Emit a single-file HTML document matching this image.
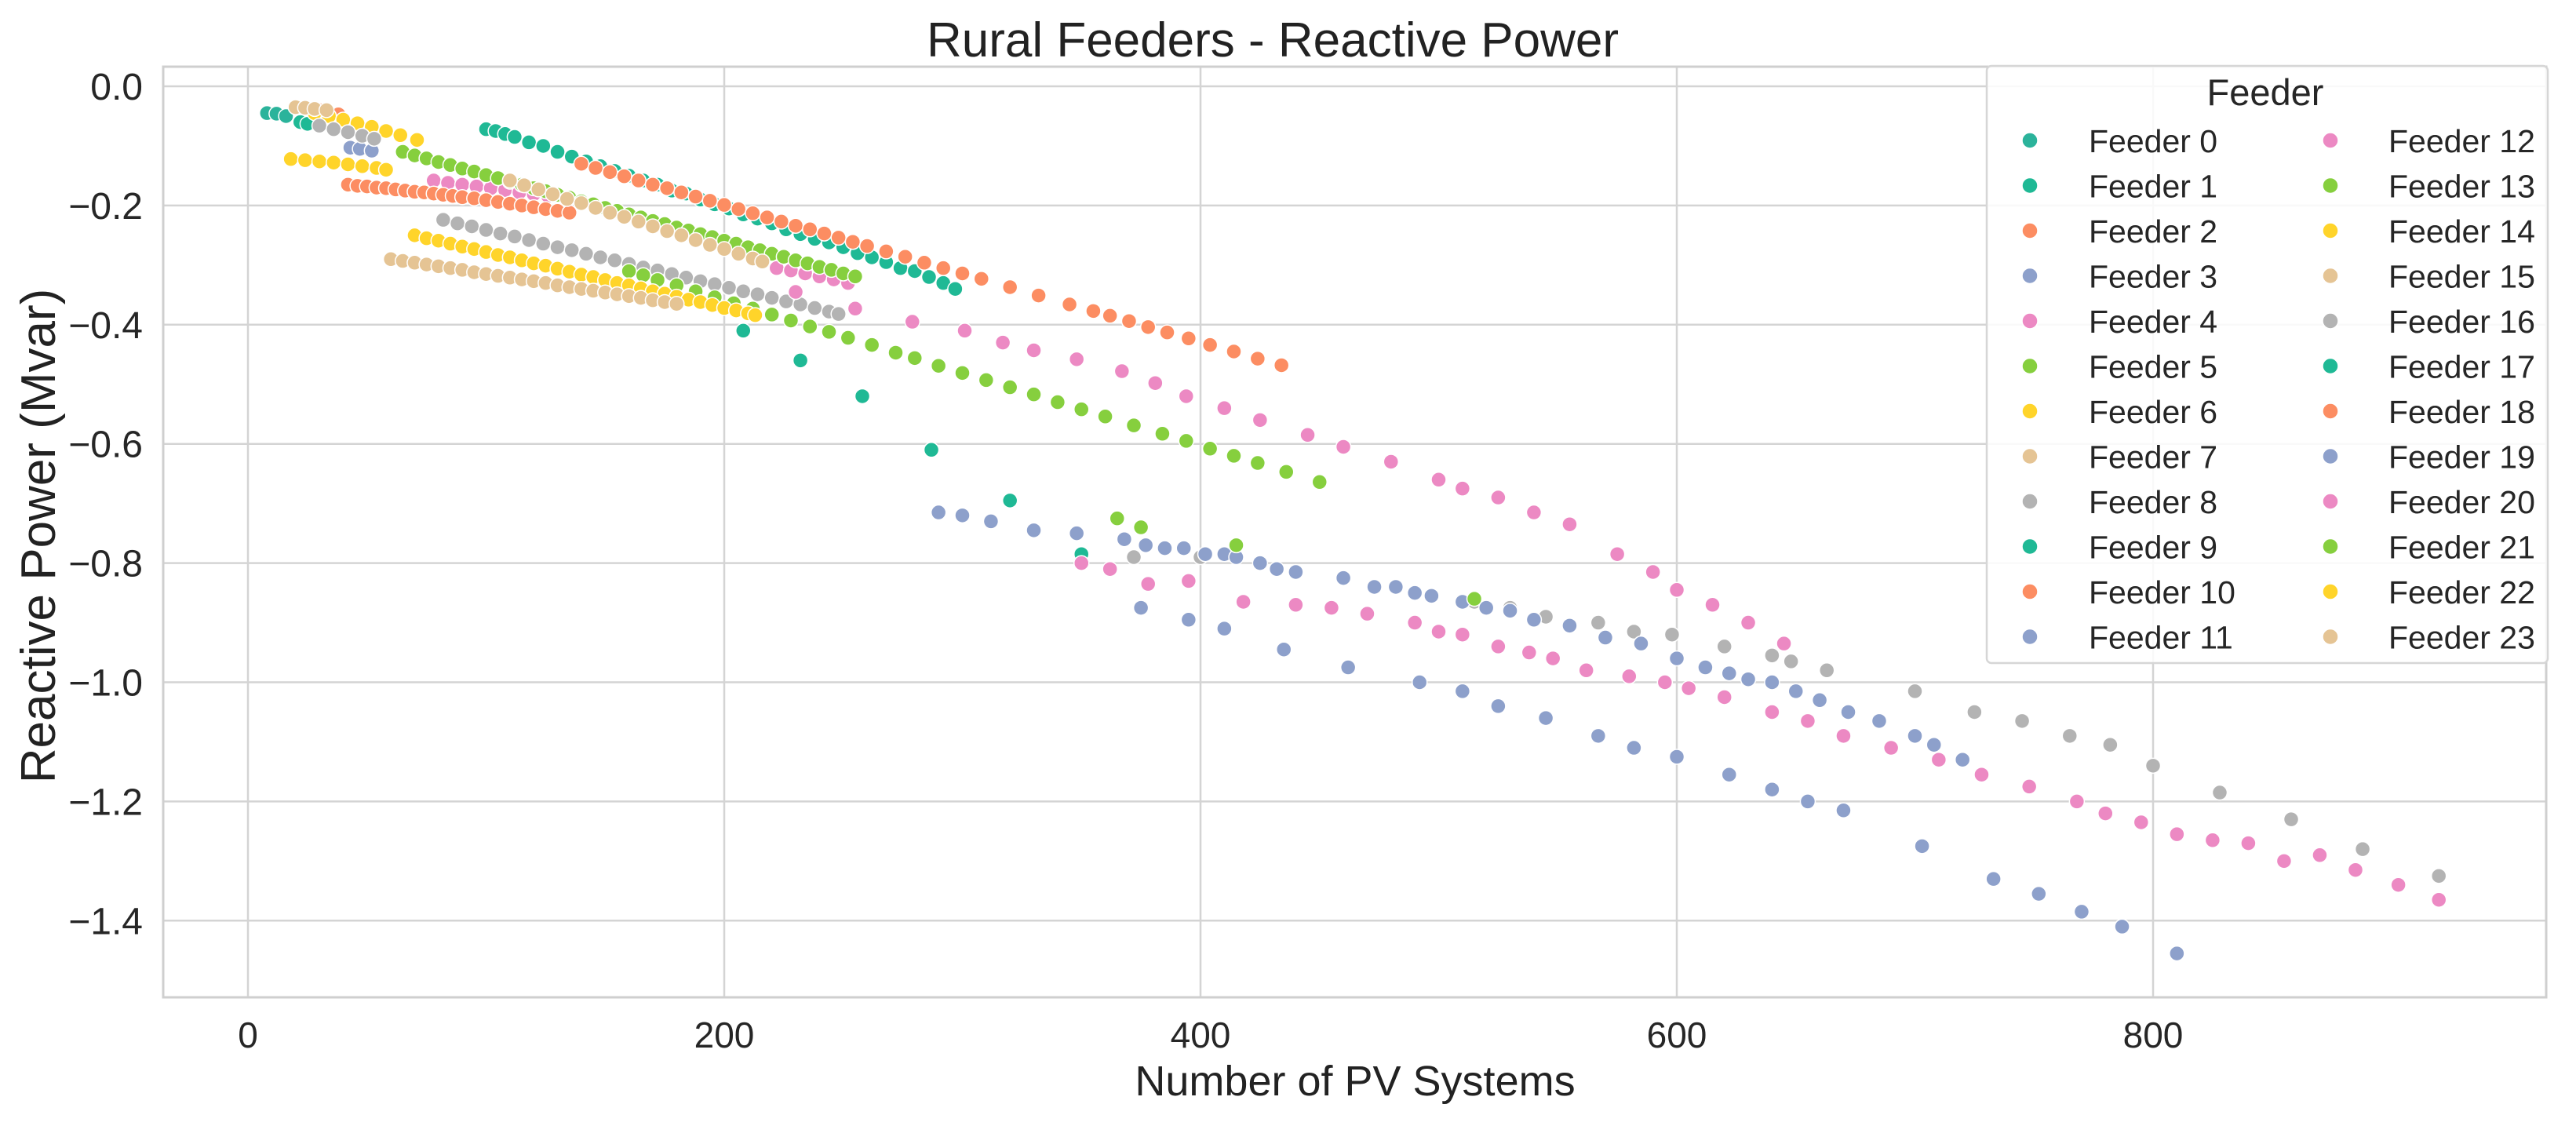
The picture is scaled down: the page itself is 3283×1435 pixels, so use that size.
<!DOCTYPE html>
<html><head><meta charset="utf-8"><title>Rural Feeders - Reactive Power</title>
<style>
html,body{margin:0;padding:0;background:#fff;}
svg{display:block;font-family:"Liberation Sans",Arial,sans-serif;}
</style></head>
<body>
<svg id="chart" width="3283" height="1435" viewBox="0 0 3283 1435" xmlns="http://www.w3.org/2000/svg">
<rect x="0" y="0" width="3283" height="1435" fill="#fff"/>
<g id="grid"></g>
<g id="marks"></g>
<rect x="208" y="85" width="3037" height="1186" fill="none" stroke="#cfcfcf" stroke-width="3"/>
<g id="ticks"></g>
<text x="1622" y="72" font-size="62" text-anchor="middle" fill="#222">Rural Feeders - Reactive Power</text>
<text x="1727" y="1396" font-size="54" text-anchor="middle" fill="#222">Number of PV Systems</text>
<text transform="translate(70,683) rotate(-90)" font-size="62" text-anchor="middle" fill="#222">Reactive Power (Mvar)</text>
<g id="legend"></g>
</svg>
<script>
const xTicks = [0, 200, 400, 600, 800];
const yTicks = [0.0, -0.2, -0.4, -0.6, -0.8, -1.0, -1.2, -1.4];
const yTickLabels = ["0.0", "\u22120.2", "\u22120.4", "\u22120.6", "\u22120.8", "\u22121.0", "\u22121.2", "\u22121.4"];
const feederNames = ["Feeder 0","Feeder 1","Feeder 2","Feeder 3","Feeder 4","Feeder 5","Feeder 6","Feeder 7","Feeder 8","Feeder 9","Feeder 10","Feeder 11","Feeder 12","Feeder 13","Feeder 14","Feeder 15","Feeder 16","Feeder 17","Feeder 18","Feeder 19","Feeder 20","Feeder 21","Feeder 22","Feeder 23"];
const feederColors = ["#2bb39b","#1fb995","#fc8d62","#8da0cb","#ec89c3","#86cf3e","#ffd42a","#e5c494","#b3b3b3","#1fb995","#fc8d62","#8da0cb","#ec89c3","#86cf3e","#ffd42a","#e5c494","#b3b3b3","#1fb995","#fc8d62","#8da0cb","#ec89c3","#86cf3e","#ffd42a","#e5c494"];

const f0x = [8, 12, 16];
const f0y = [-0.045, -0.046, -0.05];
const f1x = [22, 25];
const f1y = [-0.06, -0.063];
const f2x = [30, 33, 38];
const f2y = [-0.04, -0.042, -0.047];
const f3x = [43, 47, 52];
const f3y = [-0.103, -0.105, -0.108];
const f4x = [78, 84, 90, 96, 102, 108, 114, 120, 126, 222, 228, 234, 240, 246, 252];
const f4y = [-0.158, -0.162, -0.165, -0.168, -0.171, -0.174, -0.178, -0.181, -0.184, -0.305, -0.309, -0.314, -0.319, -0.324, -0.33];
const f5x = [65,70,75,80,85,90,95,100,105,110,115,120,125,130,135,140,145,150,155,160,165,170,175,180,185,190,195,200,205,210,215,220,225,230,235,240,245,250,255];
const f5y = [-0.110,-0.116,-0.121,-0.127,-0.132,-0.138,-0.143,-0.149,-0.154,-0.160,-0.165,-0.171,-0.176,-0.182,-0.187,-0.193,-0.198,-0.204,-0.209,-0.215,-0.220,-0.226,-0.231,-0.237,-0.242,-0.248,-0.253,-0.259,-0.264,-0.270,-0.275,-0.281,-0.286,-0.292,-0.297,-0.303,-0.308,-0.314,-0.319];
const f6x = [28, 34, 40, 46, 52, 58, 64, 71];
const f6y = [-0.045, -0.05, -0.056, -0.062, -0.068, -0.075, -0.082, -0.09];
const f7x = [20, 24, 28, 33];
const f7y = [-0.035, -0.036, -0.038, -0.04];
const f8x = [30,36,42,48,53,82,88,94,100,106,112,118,124,130,136,142,148,154,160,166,172,178,184,190,196,202,208,214,220,226,232,238,244,248];
const f8y = [-0.066,-0.072,-0.077,-0.083,-0.088,-0.224,-0.230,-0.235,-0.241,-0.247,-0.252,-0.258,-0.264,-0.270,-0.275,-0.281,-0.287,-0.292,-0.298,-0.304,-0.309,-0.315,-0.321,-0.327,-0.332,-0.338,-0.344,-0.349,-0.355,-0.361,-0.366,-0.372,-0.378,-0.382];
const f9x = [100,104,108,112,118,124,130,136,142,148,154,160,166,172,178,184,190,196,202,208,214,220,226,232,238,244,250,256,262,268,274,280,286,292,297];
const f9y = [-0.072,-0.075,-0.08,-0.085,-0.094,-0.1,-0.11,-0.118,-0.126,-0.134,-0.142,-0.15,-0.158,-0.165,-0.175,-0.18,-0.19,-0.198,-0.205,-0.215,-0.222,-0.23,-0.24,-0.248,-0.256,-0.262,-0.27,-0.28,-0.287,-0.295,-0.305,-0.31,-0.32,-0.33,-0.34];
const f10x = [42,46,50,54,58,62,66,70,74,78,82,86,90,95,100,105,110,115,120,125,130,135];
const f10y = [-0.165,-0.167,-0.168,-0.170,-0.171,-0.173,-0.175,-0.177,-0.178,-0.180,-0.182,-0.184,-0.186,-0.188,-0.191,-0.194,-0.197,-0.200,-0.203,-0.206,-0.209,-0.212];
const f11x = [375,395,410,435,462,492,510,525,545,567,582,600,622,640,655,670,703,733,752,770,787,810];
const f11y = [-0.875,-0.895,-0.91,-0.945,-0.975,-1.0,-1.015,-1.04,-1.06,-1.09,-1.11,-1.125,-1.155,-1.18,-1.2,-1.215,-1.275,-1.33,-1.355,-1.385,-1.41,-1.455];
const f12x = [230,255,279,301,317,330,348,367,381,394,410,425,445,460,480,500,510,525,540,555,575,590,600,615,630,645];
const f12y = [-0.345,-0.373,-0.395,-0.41,-0.43,-0.443,-0.458,-0.478,-0.498,-0.52,-0.54,-0.56,-0.585,-0.605,-0.63,-0.66,-0.675,-0.69,-0.715,-0.735,-0.785,-0.815,-0.845,-0.87,-0.9,-0.935];
const f13x = [160,166,172,180,188,196,204,212,220,228,236,244,252,262,272,280,290,300,310,320,330,340,350,360,372,384,394,404,414,424,436,450];
const f13y = [-0.310,-0.317,-0.325,-0.334,-0.344,-0.354,-0.364,-0.373,-0.383,-0.393,-0.403,-0.412,-0.422,-0.434,-0.447,-0.456,-0.469,-0.481,-0.493,-0.505,-0.517,-0.530,-0.542,-0.554,-0.569,-0.583,-0.595,-0.608,-0.620,-0.632,-0.647,-0.664];
const f14x = [18, 24, 30, 36, 42, 48, 54, 58];
const f14y = [-0.122, -0.124, -0.126, -0.128, -0.131, -0.134, -0.137, -0.14];
const f15x = [110,116,122,128,134,140,146,152,158,164,170,176,182,188,194,200,206,212,216];
const f15y = [-0.158,-0.166,-0.173,-0.181,-0.189,-0.196,-0.204,-0.212,-0.219,-0.227,-0.235,-0.243,-0.250,-0.258,-0.266,-0.273,-0.281,-0.289,-0.294];
const f16x = [372,400,490,515,530,545,567,582,598,620,640,648,663,700,725,745,765,782,800,828,858,888,920];
const f16y = [-0.79,-0.79,-0.85,-0.865,-0.875,-0.89,-0.9,-0.915,-0.92,-0.94,-0.955,-0.965,-0.98,-1.015,-1.05,-1.065,-1.09,-1.105,-1.14,-1.185,-1.23,-1.28,-1.325];
const f17x = [208, 232, 258, 287, 320, 350];
const f17y = [-0.41, -0.46, -0.52, -0.61, -0.695, -0.785];
const f18x = [140,146,152,158,164,170,176,182,188,194,200,206,212,218,224,230,236,242,248,254,260,268,276,284,292,300,308,320,332,345,355,362,370,378,386,395,404,414,424,434];
const f18y = [-0.130,-0.137,-0.144,-0.151,-0.158,-0.165,-0.171,-0.178,-0.185,-0.192,-0.199,-0.206,-0.213,-0.220,-0.227,-0.234,-0.240,-0.247,-0.254,-0.261,-0.268,-0.277,-0.286,-0.296,-0.305,-0.314,-0.323,-0.337,-0.351,-0.366,-0.377,-0.385,-0.394,-0.404,-0.413,-0.423,-0.434,-0.445,-0.457,-0.468];
const f19x = [290,300,312,330,348,368,377,385,393,402,410,415,425,432,440,460,473,482,490,497,510,520,530,540,555,570,585,600,612,622,630,640,650,660,672,685,700,708,720];
const f19y = [-0.715,-0.72,-0.73,-0.745,-0.75,-0.76,-0.77,-0.775,-0.775,-0.785,-0.785,-0.79,-0.8,-0.81,-0.815,-0.825,-0.84,-0.84,-0.85,-0.855,-0.865,-0.875,-0.88,-0.895,-0.905,-0.925,-0.935,-0.96,-0.975,-0.985,-0.995,-1.0,-1.015,-1.03,-1.05,-1.065,-1.09,-1.105,-1.13];
const f20x = [350,362,378,395,418,440,455,470,490,500,510,525,538,548,562,580,595,605,620,640,655,670,690,710,728,748,768,780,795,810,825,840,855,870,885,903,920];
const f20y = [-0.80,-0.81,-0.835,-0.83,-0.865,-0.87,-0.875,-0.885,-0.9,-0.915,-0.92,-0.94,-0.95,-0.96,-0.98,-0.99,-1.0,-1.01,-1.025,-1.05,-1.065,-1.09,-1.11,-1.13,-1.155,-1.175,-1.2,-1.22,-1.235,-1.255,-1.265,-1.27,-1.3,-1.29,-1.315,-1.34,-1.365];
const f21x = [365, 375, 415, 515];
const f21y = [-0.725, -0.74, -0.77, -0.86];
const f22x = [70,75,80,85,90,95,100,105,110,115,120,125,130,135,140,145,150,155,160,165,170,175,180,185,190,195,200,205,210,213];
const f22y = [-0.250,-0.255,-0.259,-0.264,-0.269,-0.273,-0.278,-0.283,-0.287,-0.292,-0.297,-0.301,-0.306,-0.311,-0.316,-0.320,-0.325,-0.330,-0.334,-0.339,-0.344,-0.348,-0.353,-0.358,-0.362,-0.367,-0.372,-0.376,-0.381,-0.384];
const f23x = [60,65,70,75,80,85,90,95,100,105,110,115,120,125,130,135,140,145,150,155,160,165,170,175,180];
const f23y = [-0.290,-0.293,-0.296,-0.299,-0.302,-0.305,-0.308,-0.312,-0.315,-0.318,-0.321,-0.324,-0.327,-0.330,-0.334,-0.337,-0.340,-0.343,-0.346,-0.349,-0.352,-0.355,-0.359,-0.362,-0.365];

const seriesX = [f0x,f1x,f2x,f3x,f4x,f5x,f6x,f7x,f8x,f9x,f10x,f11x,f12x,f13x,f14x,f15x,f16x,f17x,f18x,f19x,f20x,f21x,f22x,f23x];
const seriesY = [f0y,f1y,f2y,f3y,f4y,f5y,f6y,f7y,f8y,f9y,f10y,f11y,f12y,f13y,f14y,f15y,f16y,f17y,f18y,f19y,f20y,f21y,f22y,f23y];

const NS = "http://www.w3.org/2000/svg";
const L = 208, R = 3245, T = 85, B = 1271;
function xScale(v){ return 316 + v * 3.035; }
function yScale(v){ return 110 - v * 759.5; }
function mk(tag, attrs, parent){ const e = document.createElementNS(NS, tag); for (const k in attrs) e.setAttribute(k, attrs[k]); parent.appendChild(e); return e; }

const grid = document.getElementById('grid');
const ticks = document.getElementById('ticks');
xTicks.forEach(function(v){
  const gl = mk('line', {x1: xScale(v), x2: xScale(v), y1: T, y2: B, stroke: '#d4d4d4', 'stroke-width': 2.5}, grid);
  
  
  const t = mk('text', {x: xScale(v), y: 1335, 'font-size': 46, 'text-anchor': 'middle', fill: '#262626'}, ticks);
  t.textContent = String(v);
  
  
});
yTicks.forEach(function(v, i){
  const gl = mk('line', {x1: L, x2: R, y1: yScale(v), y2: yScale(v), stroke: '#d4d4d4', 'stroke-width': 2.5}, grid);
  
  
  const t = mk('text', {x: 182, y: yScale(v) + 17, 'font-size': 48, 'text-anchor': 'end', fill: '#262626'}, ticks);
  t.textContent = yTickLabels[i];
  
  
});

const marks = document.getElementById('marks');
seriesX.forEach(function(xs, s){
  const g = mk('g', {}, marks);
  
  
  xs.forEach(function(xv, i){
    const c = mk('circle', {cx: xScale(xv), cy: yScale(seriesY[s][i]), r: 9.5, fill: feederColors[s], stroke: '#fff', 'stroke-width': 1.5}, g);
    
    
  });
});

const legend = document.getElementById('legend');
const box = mk('rect', {x: 2532, y: 84, width: 715, height: 761, rx: 6, fill: 'rgba(255,255,255,0.85)', stroke: '#d6d6d6', 'stroke-width': 2.5}, legend);


const lt = mk('text', {x: 2887, y: 134, 'font-size': 47, 'text-anchor': 'middle', fill: '#262626'}, legend);
lt.textContent = 'Feeder';


feederNames.forEach(function(name, i){
  const col = i < 12 ? 0 : 1;
  const row = i % 12;
  const cy = 179 + row * 57.5;
  const mx = col === 0 ? 2587 : 2970;
  const tx = col === 0 ? 2662 : 3044;
  const g = mk('g', {}, legend);
  
  
  mk('circle', {cx: mx, cy: cy, r: 10, fill: feederColors[i], stroke: '#fff', 'stroke-width': 1.5}, g);
  const t = mk('text', {x: tx, y: cy + 15, 'font-size': 41, fill: '#262626'}, g);
  t.textContent = name;
});
</script>
</body></html>
